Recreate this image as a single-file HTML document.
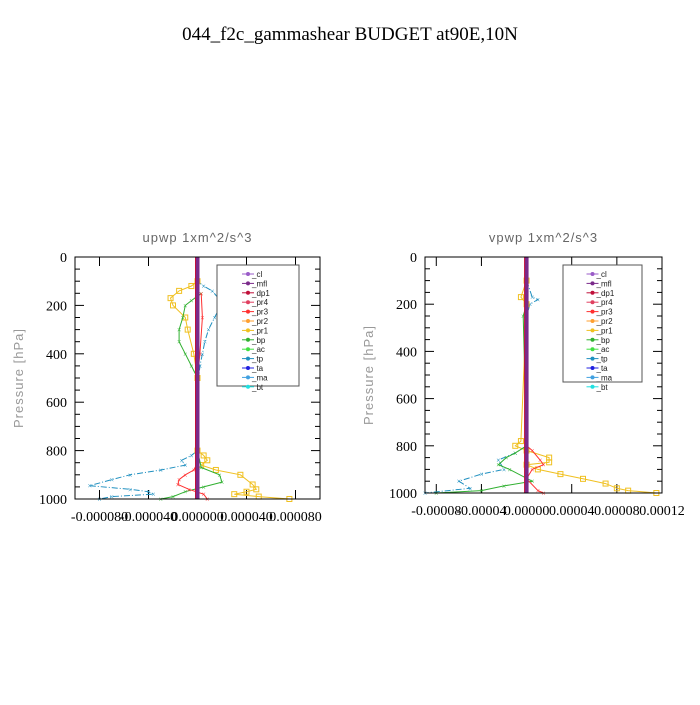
<!DOCTYPE html>
<html><head><meta charset="utf-8"><style>
body{margin:0;background:#fff;width:700px;height:700px;overflow:hidden}
svg text{font-family:"Liberation Serif",serif}
.s{font-family:"Liberation Sans",sans-serif}
</style></head><body>
<svg id="c" width="700" height="700" xmlns="http://www.w3.org/2000/svg">
<rect width="700" height="700" fill="#fff"/>
<text x="350" y="40" text-anchor="middle" font-size="19">044_f2c_gammashear  BUDGET at90E,10N</text>
</svg>
<script>
// pressure levels and series values (units 1e-5 m^2/s^3)
const legendNames=["_cl","_mfl","_dp1","_pr4","_pr3","_pr2","_pr1","_bp","_ac","_tp","_ta","_ma","_bt"];
const legendColors=["#9a5bc8","#7a2a8a","#c0103a","#e04060","#ff3030","#ffa030","#f0c020","#30b030","#40e040","#2090c0","#2020e0","#40a0e0","#20e0e0"];
const yTicks=[0,200,400,600,800,1000];
const L_tpP=[50,100,120,140,170,190,220,250,300,350,400,450,500,600,800,820,840,860,880,900,920,945,960,970,980,990,1000];
const L_tpV=[0,0,0.5,1.2,1.7,1.9,1.7,1.4,0.9,0.6,0.4,0.2,0.1,0,0,-0.5,-1.3,-1.0,-3.0,-5.5,-7.0,-8.8,-5.5,-4.0,-3.6,-7.0,-8.0];
const L_pr1P=[100,120,140,170,200,250,300,400,500,800,820,840,860,880,900,940,960,970,980,990,1000];
const L_pr1V=[0,-0.5,-1.5,-2.2,-2.0,-1.0,-0.8,-0.3,0,0,0.5,0.8,0.3,1.5,3.5,4.5,4.8,4.0,3.0,5.0,7.5];
const L_bpP=[150,180,200,250,300,350,400,450,500,800,870,900,930,950,970,990,1000];
const L_bpV=[0.3,-0.5,-1.0,-1.2,-1.5,-1.5,-1.0,-0.5,0,0,0.3,1.8,2.0,0.5,-1.0,-2.0,-3.0];
const L_redP=[150,250,400,500,850,880,900,920,940,960,980,1000];
const L_redV=[0.3,0.4,0.2,0,0,-0.3,-1.0,-1.5,-1.6,-0.7,0.5,0.8];
const R_tpP=[100,170,180,200,250,800,830,860,900,920,950,980,1000];
const R_tpV=[0,0.5,1.0,0.3,0,0,-1.0,-2.5,-2.0,-4.0,-6.0,-5.0,-9.0];
const R_pr1P=[100,170,200,780,800,820,850,870,880,900,920,940,960,980,990,1000];
const R_pr1V=[0,-0.5,0,-0.5,-1.0,0,2.0,2.0,0,1.0,3.0,5.0,7.0,8.0,9.0,11.5];
const R_bpP=[200,250,800,830,850,880,900,950,970,990,1000];
const R_bpV=[0,-0.3,0,-1.0,-1.8,-2.5,-1.5,0.5,-2.0,-4.0,-8.0];
const R_redP=[400,800,820,860,880,900,940,990,1000];
const R_redV=[0,0,0.5,1.2,1.5,0.5,0,1.0,1.5];

const NS="http://www.w3.org/2000/svg",svg=document.getElementById('c');
function mk(t,a,p){const e=document.createElementNS(NS,t);for(const k in a)e.setAttribute(k,a[k]);(p||svg).appendChild(e);return e;}
function panel(cfg){
 const g=mk('g',{});
 
 
 const {x0,x1,y0,y1,xmin,xmax}=cfg;
 const X=v=>x0+(v*1e-5-xmin)/(xmax-xmin)*(x1-x0);
 const Y=p=>y0+p/1000*(y1-y0);
 const t=mk('text',{x:(x0+x1)/2,y:242,'text-anchor':'middle','font-size':13,fill:'#666',class:'s','letter-spacing':'1'},g);t.textContent=cfg.title;
 
 const yl=mk('text',{x:0,y:0,transform:`translate(${x0-52},${(y0+y1)/2}) rotate(-90)`,'text-anchor':'middle','font-size':13,fill:'#999',class:'s','letter-spacing':'1'},g);yl.textContent='Pressure [hPa]';
 
 for(let p=0;p<=1000;p+=50){const maj=p%200==0,len=maj?9:5;
  mk('line',{x1:x0,x2:x0+len,y1:Y(p),y2:Y(p),stroke:'#000'},g);mk('line',{x1:x1,x2:x1-len,y1:Y(p),y2:Y(p),stroke:'#000'},g);}
 yTicks.forEach(p=>{const e=mk('text',{x:x0-8,y:Y(p)+5,'text-anchor':'end','font-size':14},g);e.textContent=p;
  });
 cfg.xt.forEach(v=>{const x=X(v/1e-5);mk('line',{x1:x,x2:x,y1:y0,y2:y0+9,stroke:'#000'},g);mk('line',{x1:x,x2:x,y1:y1,y2:y1-9,stroke:'#000'},g);
  const e=mk('text',{x:x,y:y1+22,'text-anchor':'middle','font-size':14},g);e.textContent=v==0?'0.00000'+(cfg.zeroPad||''):v.toFixed(cfg.dec);
  });
 const series=(P,V,col,dash,name,mark)=>{const d=P.map((p,i)=>(i?'L':'M')+X(V[i]).toFixed(1)+','+Y(p).toFixed(1)).join('');
  const s=mk('path',{d:d,fill:'none',stroke:col,'stroke-width':1,'stroke-dasharray':dash||''},g);
  
  P.forEach((p,i)=>{if(mark=='sq')mk('rect',{x:X(V[i])-2.5,y:Y(p)-2.5,width:5,height:5,fill:'none',stroke:col},g);
   else mk('text',{x:X(V[i]),y:Y(p)+3,'text-anchor':'middle','font-size':8,fill:col},g).textContent='×';});};
 series(cfg.tpP,cfg.tpV,'#2090c0','6,2,1,2','series-tp','x');
 series(cfg.pr1P,cfg.pr1V,'#f0c020','','series-pr1','sq');
 series(cfg.bpP,cfg.bpV,'#30b030','','series-bp','x');
 series(cfg.redP,cfg.redV,'#ff3030','','series-pr3','x');
 const c=mk('line',{x1:X(0),x2:X(0),y1:y0,y2:y1,stroke:'#7a2a8a','stroke-width':4},g);
 
 mk('line',{x1:X(0)-2,x2:X(0)-2,y1:y0,y2:y1,stroke:'#c0103a','stroke-width':1},g);
 mk('rect',{x:x0,y:y0,width:x1-x0,height:y1-y0,fill:'none',stroke:'#000'},g);
 const lg=mk('g',{},g);
 mk('rect',{x:cfg.lx,y:y0+8,width:cfg.lw,height:cfg.lh,fill:'#fff',stroke:'#555'},lg);
 legendNames.forEach((n,i)=>{const yy=y0+17+i*9.4,sx=cfg.lx+cfg.lw/2-10;
  const en=mk('g',{},lg);
  mk('line',{x1:sx-6,x2:sx+6,y1:yy,y2:yy,stroke:legendColors[i]},en);mk('circle',{cx:sx,cy:yy,r:2,fill:legendColors[i]},en);
  const tx=mk('text',{x:sx+4,y:yy+3,'font-size':8,class:'s',fill:'#222'},en);tx.textContent=n;});
}
panel({name:'panel-upwp',title:'upwp   1xm^2/s^3',x0:75,x1:320,y0:257,y1:499,xmin:-1e-4,xmax:1e-4,xt:[-0.00008,-0.00004,0,0.00004,0.00008],dec:6,zeroPad:'0',
 tpP:L_tpP,tpV:L_tpV,pr1P:L_pr1P,pr1V:L_pr1V,bpP:L_bpP,bpV:L_bpV,redP:L_redP,redV:L_redV,lx:217,lw:82,lh:121});
panel({name:'panel-vpwp',title:'vpwp   1xm^2/s^3',x0:425,x1:662,y0:257,y1:493,xmin:-9e-5,xmax:1.2e-4,xt:[-0.00008,-0.00004,0,0.00004,0.00008,0.00012],dec:5,
 tpP:R_tpP,tpV:R_tpV,pr1P:R_pr1P,pr1V:R_pr1V,bpP:R_bpP,bpV:R_bpV,redP:R_redP,redV:R_redV,lx:563,lw:79,lh:117});
</script>
</body></html>
